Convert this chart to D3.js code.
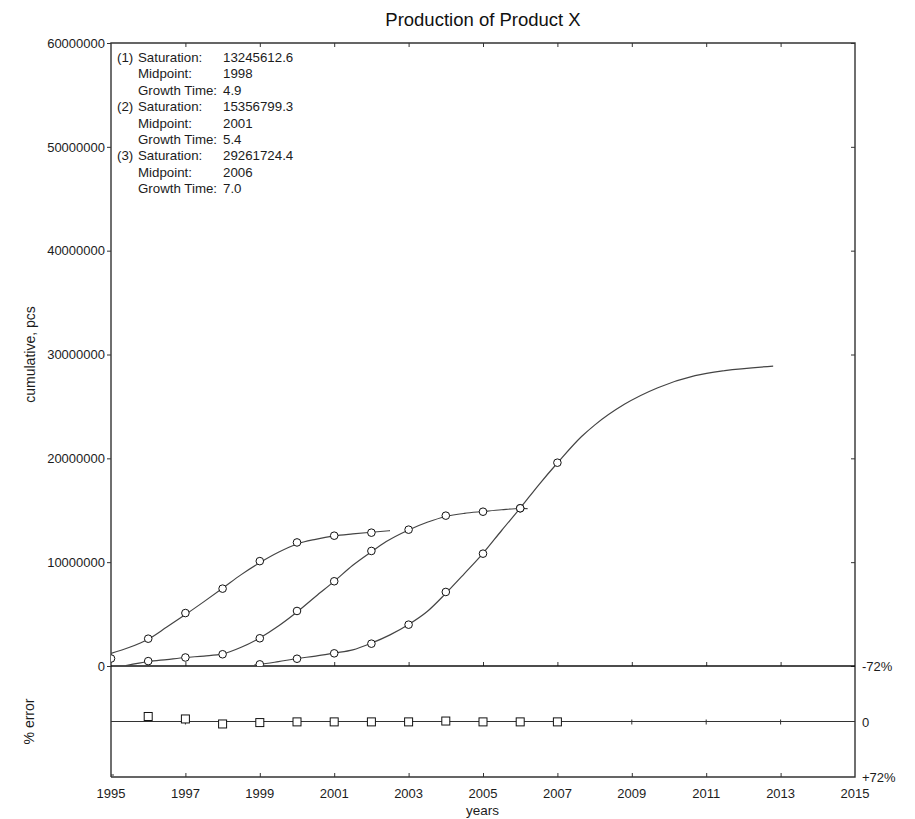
<!DOCTYPE html>
<html>
<head>
<meta charset="utf-8">
<script src="https://cdn.jsdelivr.net/npm/d3@7"></script>
<style>
  html, body { margin: 0; padding: 0; background: #fff; }
  svg { display: block; font-family: "Liberation Sans", Arial, sans-serif; }
</style>
</head>
<body>
<svg id="chart" width="915" height="819"></svg>
<script>
// ---------- data ----------
const title = "Production of Product X";
const yLabel = "cumulative, pcs";
const errLabel = "% error";
const xLabel = "years";

const xTicks = [1995, 1997, 1999, 2001, 2003, 2005, 2007, 2009, 2011, 2013, 2015];
const yTicks = [0, 10000000, 20000000, 30000000, 40000000, 50000000, 60000000];
const errTickLabels = [[-72, "-72%"], [0, "0"], [72, "+72%"]];

const legendLines = [
  ["(1)", "Saturation:", "13245612.6"],
  ["", "Midpoint:", "1998"],
  ["", "Growth Time:", "4.9"],
  ["(2)", "Saturation:", "15356799.3"],
  ["", "Midpoint:", "2001"],
  ["", "Growth Time:", "5.4"],
  ["(3)", "Saturation:", "29261724.4"],
  ["", "Midpoint:", "2006"],
  ["", "Growth Time:", "7.0"]
];

// observed cumulative values (points)
const obs1Years = [1995, 1996, 1997, 1998, 1999, 2000, 2001, 2002];
const obs1Vals  = [720000, 2630000, 5100000, 7450000, 10100000, 11900000, 12550000, 12840000];
const obs2Years = [1996, 1997, 1998, 1999, 2000, 2001, 2002, 2003, 2004, 2005, 2006];
const obs2Vals  = [470000, 820000, 1130000, 2670000, 5300000, 8160000, 11080000, 13130000, 14480000, 14860000, 15190000];
const obs3Years = [1999, 2000, 2001, 2002, 2003, 2004, 2005, 2006, 2007];
const obs3Vals  = [160000, 700000, 1220000, 2150000, 3980000, 7130000, 10820000, 15190000, 19580000];

// fitted curves
const fit1Years = [1995, 1995.5, 1996, 1996.5, 1997, 1997.5, 1998, 1998.5, 1999, 1999.5, 2000, 2000.5, 2001, 2001.5, 2002, 2002.5];
const fit1Vals  = [1220000, 1800000, 2580000, 3750000, 4950000, 6200000, 7480000, 8800000, 9950000, 10950000, 11750000, 12200000, 12530000, 12720000, 12880000, 13030000];
const fit2Years = [1995.4, 1996, 1996.5, 1997, 1997.5, 1998, 1998.5, 1999, 1999.5, 2000, 2000.5, 2001, 2001.5, 2002, 2002.4, 2003, 2003.5, 2004, 2004.5, 2005, 2005.5, 2006, 2006.2];
const fit2Vals  = [50000, 420000, 620000, 820000, 960000, 1160000, 1800000, 2700000, 3850000, 5200000, 6700000, 8150000, 9700000, 11000000, 11980000, 13100000, 13840000, 14400000, 14700000, 14880000, 15050000, 15170000, 15150000];
const fit3Years = [1998.85, 1999, 1999.5, 2000, 2000.5, 2001, 2001.5, 2002, 2002.5, 2003, 2003.5, 2004, 2004.5, 2005, 2005.5, 2006, 2006.5, 2007, 2007.65, 2008, 2008.8, 2009.7, 2010.7, 2011.5, 2012.8];
const fit3Vals  = [90000, 150000, 420000, 720000, 960000, 1250000, 1550000, 2200000, 3000000, 4000000, 5250000, 7000000, 8900000, 10850000, 13050000, 15200000, 17450000, 19550000, 22100000, 23200000, 25200000, 26800000, 27960000, 28450000, 28880000];

// % error of the fit (per year)
const errYears = [1996, 1997, 1998, 1999, 2000, 2001, 2002, 2003, 2004, 2005, 2006, 2007];
const errVals  = [-6.5, -3.3, 3.2, 1.4, 0.5, 0.5, 0.5, 0.5, -0.6, 0.5, 0.5, 0.5];

// ---------- layout ----------
const L = 111, R = 855, T = 43, MB = 666, EB = 777;
const ink = "#1c1c1c";
const svg = d3.select("#chart");

const x = d3.scaleLinear().domain([1995, 2015]).range([L, R]);
const y = d3.scaleLinear().domain([0, 60000000]).range([MB, T]);
const ye = d3.scaleLinear().domain([-72, 72]).range([MB, EB]);

svg.append("defs").append("clipPath").attr("id", "clipMain")
  .append("rect").attr("x", L).attr("y", T).attr("width", R - L).attr("height", MB - T);

// title
svg.append("text").attr("x", (L + R) / 2).attr("y", 26).attr("text-anchor", "middle")
  .attr("font-size", 18.5).attr("fill", "#111").text(title);

// axis labels
svg.append("text").attr("transform", `translate(35,${(T + MB) / 2}) rotate(-90)`)
  .attr("text-anchor", "middle").attr("font-size", 14).attr("fill", ink).text(yLabel);
svg.append("text").attr("transform", `translate(34,${(MB + EB) / 2}) rotate(-90)`)
  .attr("text-anchor", "middle").attr("font-size", 14).attr("fill", ink).text(errLabel);
svg.append("text").attr("x", (L + R) / 2 - 0.5).attr("y", 815).attr("text-anchor", "middle")
  .attr("font-size", 13.5).attr("fill", ink).text(xLabel);

// left y axis (main) with d3 axis
const yAxis = d3.axisLeft(y).tickValues(yTicks).tickSize(4).tickPadding(2).tickFormat(d3.format("d"));
const gy = svg.append("g").attr("transform", `translate(${L},0)`).call(yAxis);
gy.select(".domain").remove();
gy.selectAll("line").attr("stroke", "#333");
gy.selectAll("text").attr("font-size", 13).attr("fill", ink)
  .attr("font-family", "Liberation Sans, Arial, sans-serif");

// right inward ticks
const gyr = svg.append("g").attr("transform", `translate(${R},0)`)
  .call(d3.axisLeft(y).tickValues(yTicks).tickSize(4).tickFormat(""));
gyr.select(".domain").remove();
gyr.selectAll("line").attr("stroke", "#333");

// x ticks: top (inward), main bottom (inward up), error bottom (inward up)
const xTickInner = xTicks.filter(d => d !== 1995 && d !== 2015);
const gxt = svg.append("g").attr("transform", `translate(0,${T})`)
  .call(d3.axisBottom(x).tickValues(xTickInner).tickSize(4).tickFormat(""));
gxt.select(".domain").remove();
gxt.selectAll("line").attr("stroke", "#333");
const gxm = svg.append("g").attr("transform", `translate(0,${MB})`)
  .call(d3.axisTop(x).tickValues(xTickInner).tickSize(4).tickFormat(""));
gxm.select(".domain").remove();
gxm.selectAll("line").attr("stroke", "#333");
const gxb = svg.append("g").attr("transform", `translate(0,${EB})`)
  .call(d3.axisTop(x).tickValues(xTickInner).tickSize(4).tickFormat(""));
gxb.select(".domain").remove();
gxb.selectAll("line").attr("stroke", "#333");

// x tick labels
svg.append("g").selectAll("text").data(xTicks).join("text")
  .attr("x", d => x(d)).attr("y", 798).attr("text-anchor", "middle")
  .attr("font-size", 13).attr("fill", ink).text(d => d);

// zero line of error panel, with small ticks
svg.append("line").attr("x1", L).attr("x2", R).attr("y1", ye(0)).attr("y2", ye(0))
  .attr("stroke", "#333").attr("stroke-width", 1);
svg.append("g").selectAll("line").data(xTickInner).join("line")
  .attr("x1", d => x(d)).attr("x2", d => x(d)).attr("y1", ye(0) - 2).attr("y2", ye(0) + 3)
  .attr("stroke", "#333");

// error panel right labels
svg.append("g").selectAll("text").data(errTickLabels).join("text")
  .attr("x", 862).attr("y", d => ye(d[0]) + 5)
  .attr("font-size", 13).attr("fill", ink).text(d => d[1]);

// frames
const frame = "#333";
svg.append("path").attr("fill", "none").attr("stroke", frame).attr("stroke-width", 1.4)
  .attr("d", `M${L},${EB}V${T}H${R}V${EB}H${L}`);
svg.append("line").attr("x1", L).attr("x2", R).attr("y1", MB).attr("y2", MB)
  .attr("stroke", "#111").attr("stroke-width", 1.4);
svg.append("line").attr("x1", L).attr("x2", L + 3).attr("y1", EB - 2).attr("y2", EB - 2)
  .attr("stroke", frame);

// legend text
const lg = svg.append("g").attr("font-size", 13.3).attr("fill", ink);
legendLines.forEach((row, i) => {
  const yy = 62 + i * 16.4;
  lg.append("text").attr("x", 117).attr("y", yy).text(row[0]);
  lg.append("text").attr("x", 138).attr("y", yy).text(row[1]);
  lg.append("text").attr("x", 223).attr("y", yy).text(row[2]);
});

// fitted curves
const plot = svg.append("g").attr("clip-path", "url(#clipMain)");
const line = d3.line().x(d => x(d[0])).y(d => y(d[1])).curve(d3.curveMonotoneX);
[[fit1Years, fit1Vals], [fit2Years, fit2Vals], [fit3Years, fit3Vals]].forEach(([ys, vs]) => {
  plot.append("path").datum(ys.map((yr, i) => [yr, vs[i]]))
    .attr("fill", "none").attr("stroke", "#444").attr("stroke-width", 1.2).attr("d", line);
});

// observed points
[[obs1Years, obs1Vals], [obs2Years, obs2Vals], [obs3Years, obs3Vals]].forEach(([ys, vs]) => {
  plot.append("g").selectAll("circle").data(ys.map((yr, i) => [yr, vs[i]])).join("circle")
    .attr("cx", d => x(d[0])).attr("cy", d => y(d[1])).attr("r", 3.8)
    .attr("fill", "#fff").attr("stroke", "#111").attr("stroke-width", 1);
});

// error squares
svg.append("g").selectAll("rect").data(errYears.map((yr, i) => [yr, errVals[i]])).join("rect")
  .attr("x", d => x(d[0]) - 4).attr("y", d => ye(d[1]) - 4).attr("width", 8).attr("height", 8)
  .attr("fill", "#fff").attr("stroke", "#111").attr("stroke-width", 1);
</script>
</body>
</html>
